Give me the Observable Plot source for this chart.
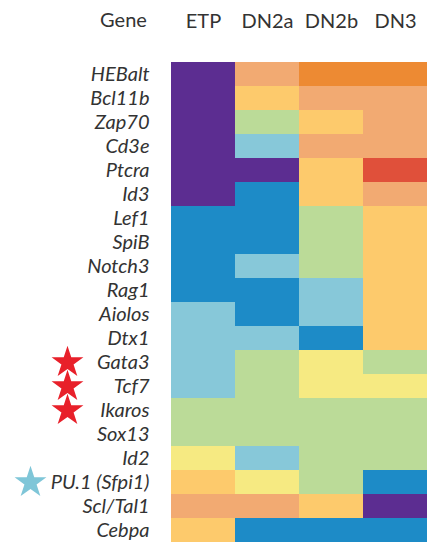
<!DOCTYPE html>
<html>
<head>
<meta charset="utf-8">
<script src="https://cdn.jsdelivr.net/npm/d3@7"></script>
<script src="https://cdn.jsdelivr.net/npm/@observablehq/plot@0.6"></script>
<style>
  html, body { margin: 0; padding: 0; background: #fff; }
  #chart svg { display: block; font-family: Lato, "Open Sans", sans-serif; }
  #chart g[aria-label="y-axis tick label"] text { font-style: italic; }
</style>
</head>
<body>
<div id="chart"></div>
<script>
const stages = ["ETP", "DN2a", "DN2b", "DN3"];
const genes = ["HEBalt", "Bcl11b", "Zap70", "Cd3e", "Ptcra", "Id3", "Lef1", "SpiB", "Notch3", "Rag1",
  "Aiolos", "Dtx1", "Gata3", "Tcf7", "Ikaros", "Sox13", "Id2", "PU.1 (Sfpi1)", "Scl/Tal1", "Cebpa"];
// expression level (1 = lowest … 9 = highest), one array per stage, in gene order
const etp  = [1, 1, 1, 1, 1, 1, 2, 2, 2, 2, 3, 3, 3, 3, 4, 4, 5, 6, 7, 6];
const dn2a = [7, 6, 4, 3, 1, 2, 2, 2, 3, 2, 2, 3, 4, 4, 4, 4, 3, 5, 7, 2];
const dn2b = [8, 7, 6, 7, 6, 6, 4, 4, 4, 3, 3, 2, 5, 5, 4, 4, 4, 4, 6, 2];
const dn3  = [8, 7, 7, 7, 9, 7, 6, 6, 6, 6, 6, 6, 4, 5, 4, 4, 4, 2, 1, 2];
const levels = [1, 2, 3, 4, 5, 6, 7, 8, 9];
const levelColors = ["#5c2d91", "#1d8bc7", "#87c8d9", "#bbdb98", "#f6ea82", "#fdca6c", "#f2aa72", "#ed8a33", "#e0503a"];
const redStarGenes = ["Gata3", "Tcf7", "Ikaros"];
const blueStarGenes = ["PU.1 (Sfpi1)"];

const stageValues = [etp, dn2a, dn2b, dn3];
const cells = [];
stages.forEach((s, i) => genes.forEach((g, j) => cells.push({stage: s, gene: g, level: stageValues[i][j]})));

const chart = Plot.plot({
  width: 440,
  height: 550,
  marginLeft: 171,
  marginRight: 13,
  marginTop: 55,
  marginBottom: 1,
  x: {domain: stages, padding: 0, axis: null},
  y: {domain: genes, padding: 0, axis: null},
  color: {type: "ordinal", domain: levels, range: levelColors},
  marks: [
    Plot.cell(cells, {x: "stage", y: "gene", fill: "level", inset: 0}),
    Plot.axisX({anchor: "top", tickSize: 0, tickPadding: 28, fontSize: 20, label: null, color: "#333"}),
    Plot.axisY({anchor: "left", tickSize: 0, tickPadding: 22, fontSize: 20, label: null, color: "#333", fontStyle: "italic"}),
    Plot.text(["Gene"], {frameAnchor: "top-left", dx: -48, dy: -43, fontSize: 20, fill: "#333", textAnchor: "middle"}),
    Plot.dot(redStarGenes, {y: d => d, frameAnchor: "left", dx: -104, symbol: "star", r: 10, fill: "#e8202a", stroke: "none"}),
    Plot.dot(blueStarGenes, {y: d => d, frameAnchor: "left", dx: -141, symbol: "star", r: 10, fill: "#7fc6d8", stroke: "none"})
  ]
});
document.getElementById("chart").append(chart);
</script>
</body>
</html>
